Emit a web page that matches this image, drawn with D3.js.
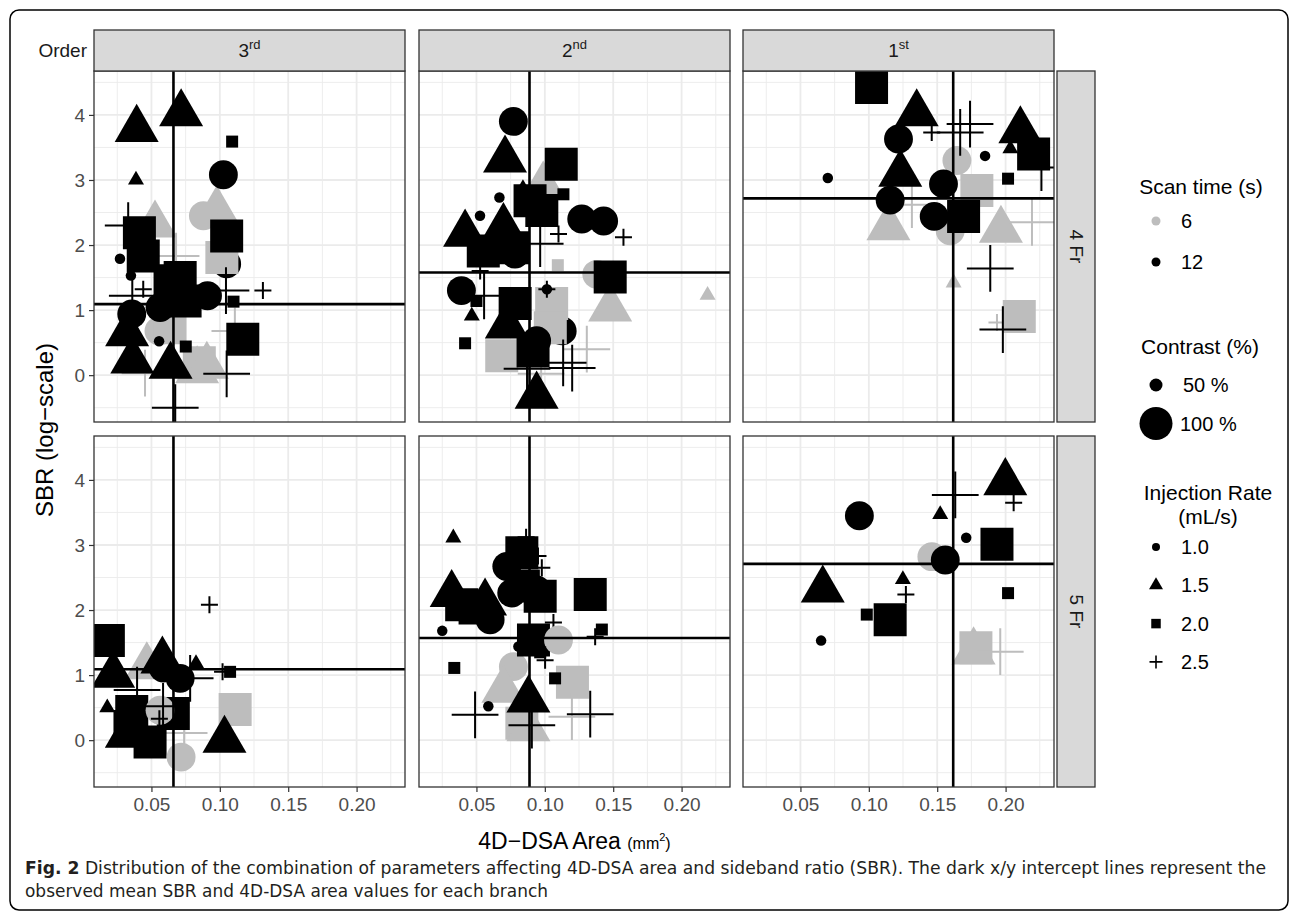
<!DOCTYPE html>
<html>
<head>
<meta charset="utf-8">
<script src="https://cdn.jsdelivr.net/npm/d3@7"></script>
<style>
  body { margin: 0; background: #fff; }
  svg { display: block; font-family: 'Liberation Sans', Arial, sans-serif; }
</style>
</head>
<body>
<svg id="mainsvg" width="1292" height="919"></svg>
<script>
// facets
const orders = ['3rd', '2nd', '1st'];
const orderSup = ['rd', 'nd', 'st'];
const catheters = ['4 Fr', '5 Fr'];
const xTicks = [0.05, 0.10, 0.15, 0.20];
const yTicks = [0, 1, 2, 3, 4];

// mean lines (per order column / per catheter row)
const meanArea = [0.0661, 0.0888, 0.1617];
const meanSBR4Fr = [1.092, 1.578, 2.717];
const meanSBR5Fr = [1.09, 1.57, 2.71];

// points: [area, SBR, scan time (s), contrast (%), injection rate (mL/s)]
const pts4Fr3rd = [
  [0.105, 1.71, 12, 100, 1.0],
  [0.0526, 2.31, 6, 100, 1.5], [0.0978, 2.53, 6, 100, 1.5], [0.088, 2.45, 6, 100, 1.0],
  [0.1015, 1.81, 6, 100, 2.0], [0.068, 1.83, 6, 100, 2.5], [0.0555, 0.68, 6, 100, 1.0],
  [0.0636, 0.73, 6, 100, 2.0], [0.085, 0.19, 6, 100, 2.0], [0.0834, 0.07, 6, 100, 1.5],
  [0.0905, 0.14, 6, 100, 1.5], [0.111, 0.68, 6, 100, 2.5], [0.0453, 0.03, 6, 100, 2.5],
  [0.0392, 3.78, 12, 100, 1.5], [0.0717, 4.02, 12, 100, 1.5], [0.109, 3.59, 12, 50, 2.0],
  [0.1026, 3.08, 12, 100, 1.0], [0.0387, 3.0, 12, 50, 1.5], [0.105, 2.14, 12, 100, 2.0],
  [0.0412, 2.19, 12, 100, 2.0], [0.044, 1.83, 12, 100, 2.0], [0.033, 2.3, 12, 100, 2.5],
  [0.027, 1.79, 12, 50, 1.0], [0.035, 1.53, 12, 50, 1.0], [0.044, 1.32, 12, 50, 2.5],
  [0.036, 1.22, 12, 100, 2.5], [0.0636, 1.45, 12, 100, 2.0], [0.071, 1.50, 12, 100, 2.0],
  [0.0746, 1.14, 12, 100, 2.0], [0.0563, 1.04, 12, 100, 1.0], [0.0356, 0.94, 12, 100, 1.0],
  [0.091, 1.22, 12, 100, 1.0], [0.1045, 1.30, 12, 100, 2.5], [0.1315, 1.30, 12, 50, 2.5],
  [0.11, 1.13, 12, 50, 2.0], [0.1168, 0.55, 12, 100, 2.0], [0.0322, 0.64, 12, 100, 1.5],
  [0.036, 0.22, 12, 100, 1.5], [0.064, 0.14, 12, 100, 1.5], [0.0751, 0.44, 12, 50, 2.0],
  [0.0556, 0.52, 12, 50, 1.0], [0.105, 0.02, 12, 100, 2.5], [0.0674, -0.5, 12, 100, 2.5]
];
const pts4Fr2nd = [
  [0.1127, 0.68, 12, 100, 1.0],
  [0.0988, 2.91, 6, 100, 1.5], [0.1095, 1.69, 6, 50, 2.0], [0.138, 1.55, 6, 100, 1.0],
  [0.1478, 1.02, 6, 100, 1.5], [0.105, 1.10, 6, 100, 2.0], [0.104, 0.73, 6, 100, 2.0],
  [0.0685, 0.30, 6, 100, 2.0], [0.1307, 0.40, 6, 100, 2.5], [0.0973, 0.02, 6, 100, 2.5],
  [0.219, 1.23, 6, 50, 1.5],
  [0.077, 3.90, 12, 100, 1.0], [0.0709, 3.31, 12, 100, 1.5], [0.112, 3.24, 12, 100, 2.0],
  [0.1136, 2.78, 12, 50, 2.0], [0.0892, 2.68, 12, 100, 2.0], [0.0978, 2.53, 12, 100, 2.0],
  [0.084, 2.87, 12, 50, 1.5], [0.0668, 2.73, 12, 50, 1.0], [0.0526, 2.45, 12, 50, 1.0],
  [0.0417, 2.17, 12, 100, 1.5], [0.0697, 2.27, 12, 100, 1.5], [0.055, 1.91, 12, 100, 2.0],
  [0.077, 1.96, 12, 100, 2.0], [0.0783, 1.86, 12, 100, 1.0], [0.127, 2.40, 12, 100, 1.0],
  [0.143, 2.37, 12, 100, 1.0], [0.1575, 2.12, 12, 50, 2.5], [0.11, 2.17, 12, 50, 2.5],
  [0.0966, 2.02, 12, 100, 2.5], [0.0527, 1.60, 12, 50, 2.5], [0.1478, 1.51, 12, 100, 2.0],
  [0.039, 1.30, 12, 100, 1.0], [0.05, 1.14, 12, 50, 2.0], [0.0466, 0.91, 12, 50, 1.5],
  [0.0556, 1.22, 12, 100, 2.5], [0.1015, 1.32, 12, 50, 1.0], [0.1015, 1.32, 12, 50, 2.5],
  [0.0783, 1.10, 12, 100, 2.0], [0.0722, 0.76, 12, 100, 1.5], [0.094, 0.53, 12, 100, 1.0],
  [0.0914, 0.37, 12, 100, 2.0], [0.0417, 0.49, 12, 50, 2.0], [0.1134, 0.19, 12, 100, 2.5],
  [0.12, 0.11, 12, 100, 2.5], [0.087, 0.10, 12, 100, 2.5], [0.094, -0.32, 12, 100, 1.5]
];
const pts4Fr1st = [
  [0.1644, 3.30, 6, 100, 1.0], [0.179, 2.84, 6, 100, 2.0], [0.1143, 2.27, 6, 100, 1.5],
  [0.1595, 2.22, 6, 100, 1.0], [0.1966, 2.23, 6, 100, 1.5], [0.2193, 2.35, 6, 100, 2.5],
  [0.1315, 2.62, 6, 100, 2.5], [0.162, 1.42, 6, 50, 1.5], [0.21, 0.90, 6, 100, 2.0],
  [0.1937, 0.81, 6, 50, 2.5],
  [0.102, 4.42, 12, 100, 2.0], [0.135, 4.02, 12, 100, 1.5], [0.1217, 3.63, 12, 100, 1.0],
  [0.123, 3.09, 12, 100, 1.5], [0.07, 3.03, 12, 50, 1.0], [0.146, 3.73, 12, 50, 2.5],
  [0.1668, 3.73, 12, 100, 2.5], [0.174, 3.86, 12, 100, 2.5], [0.185, 3.37, 12, 50, 1.0],
  [0.2108, 3.76, 12, 100, 1.5], [0.2035, 3.48, 12, 50, 1.5], [0.2205, 3.40, 12, 100, 2.0],
  [0.2018, 3.02, 12, 50, 2.0], [0.2262, 3.19, 12, 100, 2.5], [0.1546, 2.94, 12, 100, 1.0],
  [0.1156, 2.69, 12, 100, 1.0], [0.1478, 2.44, 12, 100, 1.0], [0.1693, 2.44, 12, 100, 2.0],
  [0.1888, 1.64, 12, 100, 2.5], [0.198, 0.70, 12, 100, 2.5]
];
const pts5Fr3rd = [
  [0.0466, 1.13, 6, 100, 1.5], [0.0739, 0.11, 6, 100, 2.5], [0.1112, 0.47, 6, 100, 2.0],
  [0.0185, 1.53, 12, 100, 2.0], [0.022, 1.0, 12, 100, 1.5], [0.0924, 2.08, 12, 50, 2.5],
  [0.058, 1.22, 12, 100, 1.5], [0.0587, 1.11, 12, 100, 1.0], [0.071, 0.95, 12, 100, 1.0],
  [0.0826, 1.18, 12, 50, 1.5], [0.1075, 1.05, 12, 50, 2.0], [0.102, 1.05, 12, 50, 2.5],
  [0.0783, 0.95, 12, 100, 2.5], [0.0177, 0.50, 12, 50, 1.5], [0.0356, 0.44, 12, 100, 2.0],
  [0.0343, 0.21, 12, 100, 2.0], [0.049, -0.03, 12, 100, 2.0], [0.066, 0.41, 12, 100, 2.0],
  [0.032, 0.08, 12, 100, 1.5], [0.0563, 0.46, 6, 100, 1.0], [0.0395, 0.77, 12, 100, 2.5],
  [0.0558, 0.33, 12, 50, 2.5], [0.0585, 0.52, 12, 100, 2.5], [0.1034, 0.0, 12, 100, 1.5],
  [0.0717, -0.26, 6, 100, 1.0]
];
const pts5Fr2nd = [
  [0.077, 1.13, 6, 100, 1.0], [0.0697, 0.77, 6, 100, 1.5], [0.1202, 0.89, 6, 100, 2.0],
  [0.0832, 0.26, 6, 100, 2.0], [0.088, 0.18, 6, 100, 1.5], [0.1198, 0.36, 6, 100, 2.5],
  [0.0331, 3.11, 12, 50, 1.5], [0.0319, 2.24, 12, 100, 1.5], [0.0392, 2.08, 12, 100, 2.0],
  [0.049, 2.03, 12, 100, 2.0], [0.0563, 2.11, 12, 100, 1.5], [0.06, 1.85, 12, 100, 1.0],
  [0.0722, 2.67, 12, 100, 1.0], [0.0832, 2.88, 12, 100, 2.0], [0.0843, 2.37, 12, 100, 2.0],
  [0.0966, 2.21, 12, 100, 2.0], [0.0758, 2.26, 12, 100, 1.0], [0.094, 2.31, 12, 100, 1.0],
  [0.095, 2.83, 12, 50, 2.5], [0.0978, 2.65, 12, 50, 2.5], [0.0863, 3.12, 12, 50, 2.5],
  [0.1417, 1.70, 12, 50, 2.0], [0.1368, 1.59, 12, 50, 2.5], [0.1332, 2.24, 12, 100, 2.0],
  [0.025, 1.68, 12, 50, 1.0], [0.1063, 1.81, 12, 50, 2.5], [0.0917, 1.54, 12, 100, 2.0],
  [0.11, 1.54, 6, 100, 1.0], [0.0966, 1.35, 12, 50, 2.0], [0.0807, 1.44, 12, 50, 1.0],
  [0.1002, 1.23, 12, 50, 2.5], [0.0338, 1.11, 12, 50, 2.0], [0.1075, 0.95, 12, 50, 2.0],
  [0.0587, 0.52, 12, 50, 1.0], [0.088, 0.62, 12, 100, 1.5], [0.049, 0.39, 12, 100, 2.5],
  [0.1332, 0.40, 12, 100, 2.5], [0.0905, 0.23, 12, 100, 2.5]
];
const pts5Fr1st = [
  [0.1461, 2.82, 6, 100, 1.0], [0.1766, 1.36, 6, 100, 1.5], [0.1783, 1.42, 6, 100, 2.0],
  [0.1961, 1.36, 6, 100, 2.5],
  [0.1998, 3.96, 12, 100, 1.5], [0.2059, 3.65, 12, 50, 2.5], [0.1632, 3.77, 12, 100, 2.5],
  [0.1522, 3.47, 12, 50, 1.5], [0.0931, 3.45, 12, 100, 1.0], [0.1712, 3.11, 12, 50, 1.0],
  [0.1937, 3.01, 12, 100, 2.0], [0.1559, 2.77, 12, 100, 1.0], [0.0663, 2.31, 12, 100, 1.5],
  [0.1249, 2.47, 12, 50, 1.5], [0.1271, 2.24, 12, 50, 2.5], [0.2018, 2.26, 12, 50, 2.0],
  [0.0985, 1.93, 12, 50, 2.0], [0.1156, 1.85, 12, 100, 2.0], [0.0651, 1.53, 12, 50, 1.0]
];

// legends
const scanTimes = [6, 12];
const contrasts = [50, 100];
const contrastLabels = ['50 %', '100 %'];
const rates = [1.0, 1.5, 2.0, 2.5];
const rateLabels = ['1.0', '1.5', '2.0', '2.5'];

const panelData = [[pts4Fr3rd, pts4Fr2nd, pts4Fr1st], [pts5Fr3rd, pts5Fr2nd, pts5Fr1st]];
const meanSBR = [meanSBR4Fr, meanSBR5Fr];

const svg = d3.select('#mainsvg');
const width = +svg.attr('width');
const height = +svg.attr('height');

const panelW = 311, panelH = 351;
const colLeft = [94, 419, 743];
const rowTop = [71, 436];

const xScale = d3.scaleLinear().domain([0.008, 0.2354]).range([0, panelW]);
const yScale = d3.scaleLinear().domain([-0.72, 4.675]).range([panelH, 0]);
const colorScale = d3.scaleOrdinal().domain(scanTimes).range(['#bdbdbd', '#000000']);
const sizeScale = d3.scaleOrdinal().domain(contrasts).range([1, 2.75]);
const shapeScale = d3.scaleOrdinal().domain(rates).range(['circle', 'triangle', 'square', 'plus']);

// thin plus like ggplot shape 3
const plusType = {
    draw(ctx, size) {
        const r = Math.sqrt(size) / 2;
        ctx.moveTo(-r, 0); ctx.lineTo(r, 0);
        ctx.moveTo(0, -r); ctx.lineTo(0, r);
    }
};
const symbolTypes = { circle: d3.symbolCircle, triangle: d3.symbolTriangle, square: d3.symbolSquare, plus: plusType };
const baseLen = { circle: 10.5, triangle: 16, square: 12, plus: 17 };
// length (diameter / side / span) -> symbol area
const symbolArea = (shape, len) => {
    if (shape === 'circle') return Math.PI * len * len / 4;
    if (shape === 'triangle') return Math.sqrt(3) / 4 * len * len;
    return len * len;
};
const symbolPath = (shape, len) => d3.symbol(symbolTypes[shape], symbolArea(shape, len))();

// outer frame
svg.append('rect')
    .attr('x', 10).attr('y', 10).attr('width', 1278).attr('height', 900)
    .attr('rx', 9).attr('fill', 'none').attr('stroke', '#000').attr('stroke-width', 1.5);

const defs = svg.append('defs');

const minorX = [0.025, 0.075, 0.125, 0.175, 0.225];
const minorY = [-0.5, 0.5, 1.5, 2.5, 3.5, 4.5];

panelData.forEach((row, r) => {
    row.forEach((pts, c) => {
        const g = svg.append('g')
            .attr('transform', `translate(${colLeft[c]}, ${rowTop[r]})`);
        const clipId = `clip-${r}-${c}`;
        defs.append('clipPath').attr('id', clipId)
            .append('rect').attr('width', panelW).attr('height', panelH);

        g.append('rect').attr('width', panelW).attr('height', panelH).attr('fill', '#fff');

        const grid = g.append('g');
        grid.selectAll('.minx').data(minorX).join('line')
            .attr('x1', d => xScale(d)).attr('x2', d => xScale(d))
            .attr('y1', 0).attr('y2', panelH)
            .attr('stroke', '#ebebeb').attr('stroke-width', 0.9);
        grid.selectAll('.miny').data(minorY).join('line')
            .attr('y1', d => yScale(d)).attr('y2', d => yScale(d))
            .attr('x1', 0).attr('x2', panelW)
            .attr('stroke', '#ebebeb').attr('stroke-width', 0.9);
        grid.selectAll('.majx').data(xTicks).join('line')
            .attr('x1', d => xScale(d)).attr('x2', d => xScale(d))
            .attr('y1', 0).attr('y2', panelH)
            .attr('stroke', '#ebebeb').attr('stroke-width', 1.8);
        grid.selectAll('.majy').data(yTicks).join('line')
            .attr('y1', d => yScale(d)).attr('y2', d => yScale(d))
            .attr('x1', 0).attr('x2', panelW)
            .attr('stroke', '#ebebeb').attr('stroke-width', 1.8);

        const plot = g.append('g').attr('clip-path', `url(#${clipId})`);
        plot.selectAll('path.pt').data(pts).join('path')
            .attr('class', 'pt')
            .attr('transform', d => `translate(${xScale(d[0])}, ${yScale(d[1])})`)
            .attr('d', d => {
                const sh = shapeScale(d[4]);
                return symbolPath(sh, baseLen[sh] * sizeScale(d[3]));
            })
            .attr('fill', d => shapeScale(d[4]) === 'plus' ? 'none' : colorScale(d[2]))
            .attr('stroke', d => shapeScale(d[4]) === 'plus' ? colorScale(d[2]) : 'none')
            .attr('stroke-width', 2);

        // mean intercept lines
        plot.append('line')
            .attr('x1', xScale(meanArea[c])).attr('x2', xScale(meanArea[c]))
            .attr('y1', 0).attr('y2', panelH)
            .attr('stroke', '#000').attr('stroke-width', 2.6);
        plot.append('line')
            .attr('y1', yScale(meanSBR[r][c])).attr('y2', yScale(meanSBR[r][c]))
            .attr('x1', 0).attr('x2', panelW)
            .attr('stroke', '#000').attr('stroke-width', 2.6);

        g.append('rect').attr('width', panelW).attr('height', panelH)
            .attr('fill', 'none').attr('stroke', '#333').attr('stroke-width', 1.3);

        if (c === 0) {
            const yAxis = d3.axisLeft(yScale).tickValues(yTicks).tickSize(5).tickPadding(4)
                .tickFormat(d3.format('d'));
            g.append('g').call(yAxis).call(ax => {
                ax.select('.domain').remove();
                ax.selectAll('line').attr('stroke', '#333').attr('stroke-width', 1.2);
                ax.selectAll('text').attr('fill', '#4d4d4d').attr('font-size', 19)
                    .attr('font-family', "'Liberation Sans', Arial, sans-serif");
            });
        }
        if (r === 1) {
            const xAxis = d3.axisBottom(xScale).tickValues(xTicks).tickSize(5).tickPadding(6)
                .tickFormat(d3.format('.2f'));
            g.append('g').attr('transform', `translate(0, ${panelH})`).call(xAxis).call(ax => {
                ax.select('.domain').remove();
                ax.selectAll('line').attr('stroke', '#333').attr('stroke-width', 1.2);
                ax.selectAll('text').attr('fill', '#4d4d4d').attr('font-size', 19)
                    .attr('font-family', "'Liberation Sans', Arial, sans-serif");
            });
        }
    });
});

// top strips
orders.forEach((o, c) => {
    svg.append('rect')
        .attr('x', colLeft[c]).attr('y', 30).attr('width', panelW).attr('height', 41)
        .attr('fill', '#d9d9d9').attr('stroke', '#333').attr('stroke-width', 1.3);
    const t = svg.append('text')
        .attr('x', colLeft[c] + panelW / 2).attr('y', 57)
        .attr('text-anchor', 'middle').attr('font-size', 19).attr('fill', '#1a1a1a');
    t.append('tspan').text(o.replace(orderSup[c], ''));
    t.append('tspan').text(orderSup[c]).attr('font-size', 13).attr('dy', -8);
});
svg.append('text').text('Order')
    .attr('x', 87).attr('y', 57).attr('text-anchor', 'end')
    .attr('font-size', 19).attr('fill', '#1a1a1a');

// right strips
catheters.forEach((cat, r) => {
    svg.append('rect')
        .attr('x', 1057).attr('y', rowTop[r]).attr('width', 38).attr('height', panelH)
        .attr('fill', '#d9d9d9').attr('stroke', '#333').attr('stroke-width', 1.3);
    svg.append('text').text(cat)
        .attr('transform', `translate(1076, ${rowTop[r] + panelH / 2}) rotate(90)`)
        .attr('text-anchor', 'middle').attr('dominant-baseline', 'central')
        .attr('font-size', 19).attr('fill', '#1a1a1a');
});

// axis titles
svg.append('text').text('SBR (log\u2212scale)')
    .attr('transform', 'translate(44, 430) rotate(-90)')
    .attr('text-anchor', 'middle').attr('dominant-baseline', 'central')
    .attr('font-size', 24).attr('fill', '#000');

const xt = svg.append('text')
    .attr('x', 574.5).attr('y', 849).attr('text-anchor', 'middle')
    .attr('font-size', 23).attr('fill', '#000');
xt.append('tspan').text('4D\u2212DSA Area ');
xt.append('tspan').text('(mm').attr('font-size', 16);
xt.append('tspan').text('2').attr('font-size', 11).attr('dy', -8);
xt.append('tspan').text(')').attr('font-size', 16).attr('dy', 8);

// legends
const legX = 1156, labX = 1181;
const legend = svg.append('g').attr('font-size', 20).attr('fill', '#000');

legend.append('text').text('Scan time (s)').attr('x', 1201).attr('y', 194)
    .attr('text-anchor', 'middle').attr('font-size', 21);
scanTimes.forEach((s, i) => {
    const cy = 221 + i * 41;
    legend.append('path').attr('d', symbolPath('circle', 9))
        .attr('transform', `translate(${legX}, ${cy})`).attr('fill', colorScale(s));
    legend.append('text').text(s).attr('x', labX).attr('y', cy).attr('dominant-baseline', 'central');
});

legend.append('text').text('Contrast (%)').attr('x', 1200).attr('y', 354)
    .attr('text-anchor', 'middle').attr('font-size', 21);
contrasts.forEach((s, i) => {
    const cy = 385 + i * 38.5;
    legend.append('path').attr('d', symbolPath('circle', i === 0 ? 13 : 33))
        .attr('transform', `translate(${legX}, ${cy})`).attr('fill', '#000');
    legend.append('text').text(contrastLabels[i]).attr('x', i === 0 ? 1183 : 1180).attr('y', cy)
        .attr('dominant-baseline', 'central');
});

legend.append('text').text('Injection Rate').attr('x', 1208).attr('y', 500)
    .attr('text-anchor', 'middle').attr('font-size', 21);
legend.append('text').text('(mL/s)').attr('x', 1208).attr('y', 524)
    .attr('text-anchor', 'middle').attr('font-size', 21);
const legLen = { circle: 8, triangle: 14, square: 9.5, plus: 13 };
rates.forEach((s, i) => {
    const cy = 547 + i * 38.3;
    const sh = shapeScale(s);
    legend.append('path').attr('d', symbolPath(sh, legLen[sh]))
        .attr('transform', `translate(${legX}, ${cy})`)
        .attr('fill', sh === 'plus' ? 'none' : '#000')
        .attr('stroke', sh === 'plus' ? '#000' : 'none').attr('stroke-width', 1.6);
    legend.append('text').text(rateLabels[i]).attr('x', labX).attr('y', cy)
        .attr('dominant-baseline', 'central');
});

// caption
const capFont = "'Liberation Sans Narrow', 'DejaVu Sans Condensed', 'Liberation Sans', sans-serif";
const cap1 = svg.append('text')
    .attr('x', 25).attr('y', 874).attr('font-size', 17).attr('font-family', capFont)
    .attr('fill', '#231f20').attr('textLength', 1241).attr('lengthAdjust', 'spacingAndGlyphs');
cap1.append('tspan').text('Fig. 2').attr('font-weight', 'bold');
cap1.append('tspan').text(' Distribution of the combination of parameters affecting 4D-DSA area and sideband ratio (SBR). The dark x/y intercept lines represent the');
svg.append('text')
    .text('observed mean SBR and 4D-DSA area values for each branch')
    .attr('x', 25).attr('y', 897).attr('font-size', 17).attr('font-family', capFont)
    .attr('fill', '#231f20').attr('textLength', 523).attr('lengthAdjust', 'spacingAndGlyphs');
</script>
</body>
</html>
